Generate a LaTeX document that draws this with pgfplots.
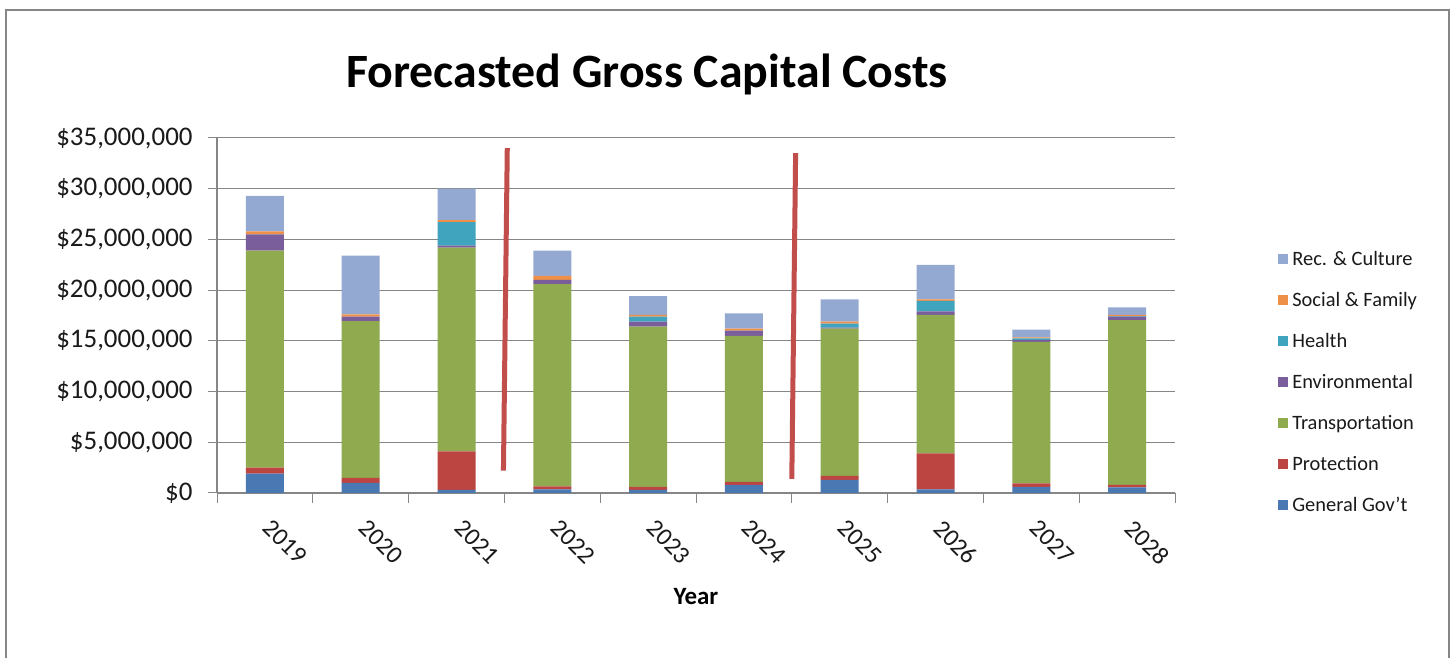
\documentclass[border=0pt]{standalone}
\usepackage{pgfplots}
\usepackage{pgfplotstable}
\pgfplotsset{compat=1.18}
\usepackage{fontspec}
\setmainfont{Carlito}
\definecolor{cgen}{HTML}{4A78B2}
\definecolor{cpro}{HTML}{BC4542}
\definecolor{ctra}{HTML}{8FAA4F}
\definecolor{cenv}{HTML}{7A5E9C}
\definecolor{chea}{HTML}{40A4BE}
\definecolor{csoc}{HTML}{EE9048}
\definecolor{crec}{HTML}{94A9D2}
\definecolor{axgray}{HTML}{868686}
\definecolor{txt}{HTML}{1A1A1A}
\definecolor{redline}{HTML}{C24E4C}

\pgfplotstableread{
x gen pro tra env hea soc rec
0 1900000 600000 21400000 1600000 0 300000 3500000
1 1000000 500000 15450000 450000 0 200000 5800000
2 300000 3800000 20100000 200000 2300000 200000 3100000
3 350000 300000 19950000 400000 0 400000 2500000
4 300000 300000 15800000 500000 500000 150000 1850000
5 800000 300000 14400000 500000 0 200000 1500000
6 1300000 400000 14500000 100000 400000 200000 2200000
7 350000 3550000 13650000 350000 1050000 150000 3400000
8 600000 350000 13950000 200000 150000 100000 750000
9 550000 250000 16250000 350000 50000 100000 750000
}\datatable

\begin{document}
\begin{tikzpicture}
\useasboundingbox (0,0) rectangle (1455bp,658bp);
\fill[white] (0,0) rectangle (1455bp,658bp);
\draw[axgray, line width=2bp] (6bp,0) -- (6bp,648bp) -- (1449bp,648bp) -- (1449bp,0);
\node[font=\bfseries\fontsize{48}{56}\selectfont, anchor=base, text=black] at (647bp,570bp) {Forecasted Gross Capital Costs};
\begin{axis}[
  at={(217bp,165bp)}, anchor=south west,
  scale only axis, width=958bp, height=355bp,
  ybar stacked, bar width=38bp,
  xmin=-0.5, xmax=9.5, ymin=0, ymax=35000000,
  axis x line*=bottom, axis y line*=left,
  axis line style={axgray, line width=1.2bp},
  xtick={0,...,9},
  xticklabels={2019,2020,2021,2022,2023,2024,2025,2026,2027,2028},
  xtick style={draw=none},
  extra x ticks={-0.5,0.5,1.5,2.5,3.5,4.5,5.5,6.5,7.5,8.5,9.5},
  extra x tick labels={,,,,,,,,,,},
  extra x tick style={grid=none, xtick style={draw=axgray, line width=1bp}, major tick length=10bp, tick align=outside},
  ytick={0,5000000,10000000,15000000,20000000,25000000,30000000,35000000},
  scaled y ticks=false,
  ytick style={draw=axgray, line width=1bp},
  tick align=outside, major tick length=9bp,
  ymajorgrids, grid style={axgray, line width=1bp},
  /pgf/number format/assume math mode=true,
  yticklabel={\$\pgfmathprintnumber[fixed,precision=0,1000 sep={,}]{\tick}},
  y tick label style={font=\fontsize{27}{31}\selectfont, text=txt, xshift=-12bp},
  x tick label style={rotate=-45, anchor=north west, font=\fontsize{25}{29}\selectfont, text=txt, xshift=14bp, yshift=-2bp},
  xlabel={Year},
  xlabel style={font=\bfseries\fontsize{25}{30}\selectfont, text=black, at={(axis description cs:0.5,0)}, anchor=center, yshift=-104bp},
  reverse legend,
  legend style={at={(axis description cs:1.104,0.70)}, anchor=north west, draw=none, fill=none,
    font=\fontsize{20.5}{24}\selectfont, text=txt, row sep=16.3bp, nodes={inner sep=4.5bp}},
  legend image code/.code={\fill[#1, draw=none] (0bp,-5bp) rectangle (10bp,5bp);},
  legend cell align=left,
]
\addplot[fill=cgen, draw=none] table[x=x, y=gen] {\datatable};
\addlegendentry{General Gov't}
\addplot[fill=cpro, draw=none] table[x=x, y=pro] {\datatable};
\addlegendentry{Protection}
\addplot[fill=ctra, draw=none] table[x=x, y=tra] {\datatable};
\addlegendentry{Transportation}
\addplot[fill=cenv, draw=none] table[x=x, y=env] {\datatable};
\addlegendentry{Environmental}
\addplot[fill=chea, draw=none] table[x=x, y=hea] {\datatable};
\addlegendentry{Health}
\addplot[fill=csoc, draw=none] table[x=x, y=soc] {\datatable};
\addlegendentry{Social \& Family}
\addplot[fill=crec, draw=none] table[x=x, y=rec] {\datatable};
\addlegendentry{Rec. \& Culture}
\draw[redline, line width=5bp] (axis cs:2.53,34000000) -- (axis cs:2.49,2200000);
\draw[redline, line width=5bp] (axis cs:5.54,33500000) -- (axis cs:5.50,1400000);
\end{axis}
\end{tikzpicture}
\end{document}
